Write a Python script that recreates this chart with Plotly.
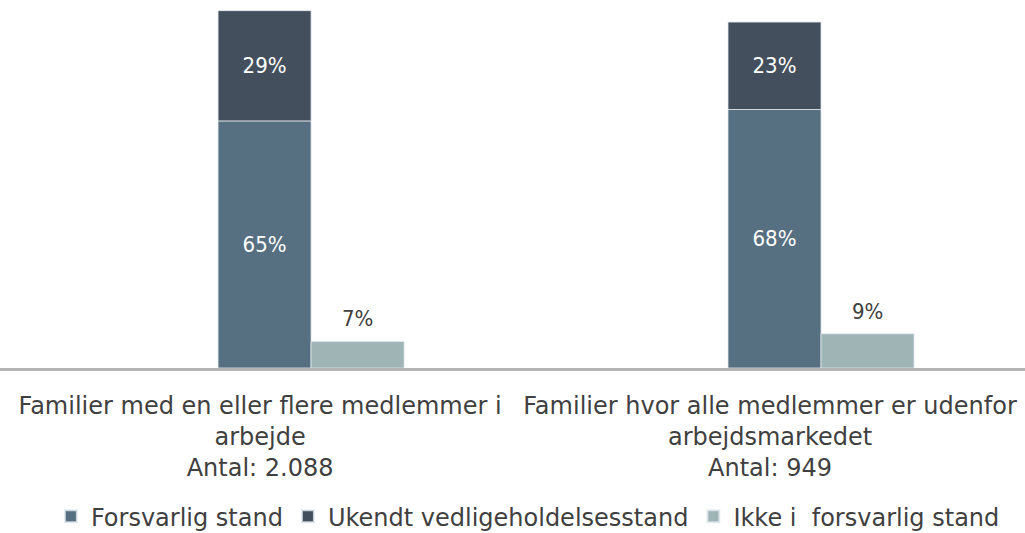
import plotly.graph_objects as go

categories = [
    "Familier med en eller flere medlemmer i<br>arbejde<br>Antal: 2.088",
    "Familier hvor alle medlemmer er udenfor<br>arbejdsmarkedet<br>Antal: 949",
]
forsvarlig = [65, 68]
ukendt = [29, 23]
ikke = [7, 9]
series_names = ["Forsvarlig stand", "Ukendt vedligeholdelsesstand", "Ikke i\u00a0 forsvarlig stand"]
colors = ["#566f81", "#444f5d", "#9fb4b5"]

W = 0.1824
OFF_STACK = -0.0824
OFF_SIDE = 0.1
PX_PER_CAT = 1025 / 2.01

def pct(v):
    return [f"{x}%" for x in v]

line = dict(color="rgba(225,232,238,0.8)", width=1)
label_font = dict(color="white", size=22, family="DejaVu Sans Condensed, DejaVu Sans")

fig = go.Figure()
fig.add_trace(go.Bar(
    x=categories, y=forsvarlig, name=series_names[0],
    marker=dict(color=colors[0], line=line), width=W, offset=OFF_STACK,
    text=pct(forsvarlig), textposition="inside", insidetextanchor="middle",
    textfont=label_font,
))
fig.add_trace(go.Bar(
    x=categories, y=ukendt, base=forsvarlig, name=series_names[1],
    marker=dict(color=colors[1], line=line), width=W, offset=OFF_STACK,
    text=pct(ukendt), textposition="inside", insidetextanchor="middle",
    textfont=label_font,
))
fig.add_trace(go.Bar(
    x=categories, y=ikke, name=series_names[2],
    marker=dict(color=colors[2], line=line), width=W, offset=OFF_SIDE,
))

for cat, v in zip(categories, ikke):
    fig.add_annotation(
        x=cat, y=v, text=f"{v}%", showarrow=False,
        xref="x", yref="y", yanchor="bottom",
        xshift=(OFF_SIDE + W / 2) * PX_PER_CAT, yshift=8,
        font=dict(color="#404040", size=22, family="DejaVu Sans Condensed, DejaVu Sans"),
    )

fig.update_layout(
    width=1025, height=533,
    barmode="overlay",
    margin=dict(l=0, r=0, t=0, b=165, autoexpand=False),
    plot_bgcolor="white", paper_bgcolor="white",
    showlegend=True,
    legend=dict(orientation="h", x=0.515, xanchor="center", y=-0.404, yanchor="middle",
                font=dict(family="DejaVu Sans", size=24, color="#404040"),
                traceorder="normal", itemsizing="constant", tracegroupgap=0),
)
fig.update_xaxes(
    range=[-0.51, 1.5], showline=True, linecolor="#b3b3b3", linewidth=3,
    tickfont=dict(family="DejaVu Sans", size=24, color="#404040"),
    ticks="", showgrid=False, automargin=False, ticklabelstandoff=14,
)
fig.update_yaxes(range=[0, 96.8], visible=False, showgrid=False, zeroline=False, automargin=False)

fig.write_html("out.html", config={"displayModeBar": False},
               post_script="document.body.style.margin='0';")
